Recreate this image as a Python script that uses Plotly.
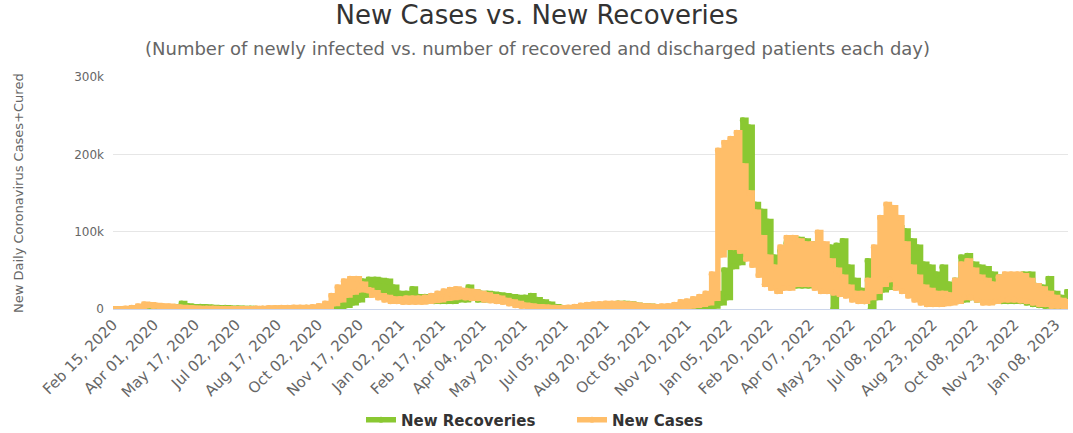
import pandas as pd
import plotly.graph_objects as go

# ---------------- data (thousands, weekly envelopes) ----------------
start_date = "2020-02-15"

cases_hi = [0, 0.1, 0.5, 1.5, 3.5, 6, 5.5, 4.5, 4, 3.5,
            2.5, 2, 1.5, 1, 0.8, 0.6, 0.5, 0.3, 0.3, 0.2,
            0.3, 0.3, 0.4, 0.5, 0.8, 1.2, 1.4, 1.6, 1.7, 1.8,
            1.9, 2.0, 2.5, 4, 7, 17, 28, 36, 39, 39,
            32, 24, 21, 17, 15, 13, 13, 14, 14, 14,
            15, 17, 20, 23, 25, 26, 24, 23, 22, 20,
            18, 16, 14, 11, 9, 7, 5, 4, 3, 2.5,
            2, 1.5, 1.5, 2, 3, 4.5, 5.5, 6, 6.5, 7,
            7, 7, 6.5, 6, 5, 4, 3.5, 3, 3.5, 4,
            5.5, 9, 10, 13, 16, 20, 45, 205, 215, 220,
            228, 185, 150, 125, 92, 67, 54, 80, 92, 92,
            88, 84, 84, 99, 84, 62, 50, 41, 28, 20,
            20, 37, 80, 118, 135, 131, 118, 84, 54, 41,
            28, 24, 20, 20, 18, 37, 58, 62, 50, 41,
            37, 32, 41, 45, 45, 45, 43, 37, 30, 26,
            20, 15, 11, 9]

cases_lo = [0, 0, 0.2, 0.8, 2.5, 4.5, 4, 3.5, 3, 2.5,
            1.8, 1.2, 0.8, 0.5, 0.4, 0.3, 0.2, 0.2, 0.1, 0.1,
            0.1, 0.1, 0.1, 0.2, 0.3, 0.5, 0.8, 1, 1.2, 1.2,
            1.3, 1.4, 1.5, 2, 3, 7, 12, 18, 22, 25,
            25, 18, 15, 12, 10, 10, 9, 9, 9, 9,
            10, 11, 12, 14, 15, 16, 15, 14, 14, 12,
            11, 10, 9, 7, 5, 4, 3, 2, 1.5, 1.2,
            1, 0.8, 0.8, 1, 1.5, 2, 2.5, 3, 3.5, 3.5,
            3.5, 3.5, 3.5, 3, 2.5, 2, 2, 1.5, 1.8, 2,
            2.5, 3.5, 4, 5, 6, 8, 14, 70, 80, 80,
            75, 65, 57, 44, 32, 27, 23, 27, 27, 32,
            32, 32, 27, 23, 23, 21, 19, 17, 12, 10,
            10, 15, 23, 32, 38, 27, 23, 17, 12, 8,
            6, 6, 6, 7, 8, 10, 15, 15, 12, 8,
            8, 10, 12, 12, 12, 11, 10, 8, 6, 6,
            4, 4, 3, 3]

recov_hi = [0, 0, 0, 0.3, 0.8, 1.5, 2, 2, 2.5, 2.5,
            3, 7, 4, 3, 3, 2.5, 2, 1.5, 1.5, 1,
            1, 0.8, 0.5, 0.4, 0.3, 0.3, 0.5, 0.5, 0.8, 1,
            1.2, 1.5, 1.5, 2, 3, 5, 8, 12, 17, 28,
            36, 38, 38, 37, 36, 28, 20, 20, 26, 16,
            16, 16, 16, 17, 18, 20, 22, 28, 22, 20,
            20, 19, 18, 17, 16, 15, 15, 17, 12, 9,
            6, 3, 1.5, 1, 1, 1.5, 2, 3, 4, 5,
            6, 7, 7, 6.5, 5, 4, 3.5, 3, 2.5, 2,
            2, 3, 4, 5, 6, 8, 11, 20, 50, 95,
            80, 244, 235, 135, 126, 113, 67, 75, 85, 88,
            90, 88, 84, 80, 70, 80, 82, 88, 54, 37,
            24, 62, 55, 65, 80, 100, 105, 101, 88, 80,
            58, 54, 45, 54, 32, 37, 67, 69, 58, 54,
            52, 45, 41, 40, 40, 42, 45, 45, 30, 28,
            39, 20, 15, 22]

recov_lo = [0, 0, 0, 0.1, 0.3, 0.8, 1, 1.2, 1.5, 1.5,
            1.5, 1.5, 2, 1.5, 1.2, 1, 0.8, 0.5, 0.5, 0.3,
            0.3, 0.2, 0.2, 0.1, 0.1, 0.1, 0.2, 0.2, 0.3, 0.4,
            0.5, 0.5, 0.5, 0.8, 1, 2, 3, 5, 8, 12,
            18, 20, 20, 18, 18, 15, 12, 12, 12, 10,
            10, 10, 10, 10, 10, 12, 12, 14, 12, 12,
            12, 11, 10, 9, 8, 7, 6, 6, 5, 3,
            2, 1, 0.5, 0.3, 0.3, 0.5, 0.8, 1, 1.5, 2,
            2.5, 3, 3, 3, 2.5, 2, 1.5, 1.5, 1, 1,
            1, 1, 1.5, 2, 2.5, 3, 4, 8, 15, 55,
            60, 120, 100, 70, 60, 50, 35, 30, 30, 30,
            30, 30, 30, 28, 25, 0, 28, 25, 20, 15,
            10, 0, 15, 25, 28, 30, 30, 25, 20, 15,
            12, 10, 10, 10, 10, 10, 12, 15, 12, 10,
            10, 10, 10, 10, 10, 10, 8, 6, 5, 4,
            3, 2, 2, 2]

tick_labels = ["Feb 15, 2020", "Apr 01, 2020", "May 17, 2020", "Jul 02, 2020",
               "Aug 17, 2020", "Oct 02, 2020", "Nov 17, 2020", "Jan 02, 2021",
               "Feb 17, 2021", "Apr 04, 2021", "May 20, 2021", "Jul 05, 2021",
               "Aug 20, 2021", "Oct 05, 2021", "Nov 20, 2021", "Jan 05, 2022",
               "Feb 20, 2022", "Apr 07, 2022", "May 23, 2022", "Jul 08, 2022",
               "Aug 23, 2022", "Oct 08, 2022", "Nov 23, 2022", "Jan 08, 2023"]

y_ticks = [0, 100000, 200000, 300000]
y_tick_text = ["0", "100k", "200k", "300k"]

GREEN = "#8AC832"
ORANGE = "#FFBE69"
FONT = "DejaVu Sans"

# ---------------- build series ----------------
weeks = pd.date_range(start_date, periods=len(cases_hi), freq="7D")


def envelope_points(hi, lo):
    xs, ys = [], []
    for d, h, l in zip(weeks, hi, lo):
        xs += [d, d + pd.Timedelta(hours=84)]
        ys += [h * 1000, l * 1000]
    return xs, ys


rx, ry = envelope_points(recov_hi, recov_lo)
cx, cy = envelope_points(cases_hi, cases_lo)
tick_vals = [pd.to_datetime(t, format="%b %d, %Y") for t in tick_labels]

fig = go.Figure()
fig.add_trace(go.Scatter(x=rx, y=ry, name="New Recoveries", mode="lines+markers",
                         line=dict(color=GREEN, width=5.5, shape="hv"),
                         marker=dict(color=GREEN, size=6), legend="legend"))
fig.add_trace(go.Scatter(x=cx, y=cy, name="New Cases", mode="lines+markers",
                         line=dict(color=ORANGE, width=5.5, shape="hv"),
                         marker=dict(color=ORANGE, size=6), legend="legend2"))

legend_font = dict(family=FONT, size=15, color="#333333", weight="bold")
legend_common = dict(orientation="h", xref="container", yref="container",
                     xanchor="left", y=13 / 433, yanchor="middle",
                     font=legend_font, itemwidth=30, bgcolor="rgba(0,0,0,0)")

fig.update_layout(
    width=1073, height=433,
    margin=dict(l=113, r=5, t=77, b=124, autoexpand=False),
    paper_bgcolor="white", plot_bgcolor="white",
    font=dict(family=FONT, color="#666666"),
    title=dict(text="New Cases vs. New Recoveries", x=537 / 1073, xanchor="center",
               xref="container", yref="container", y=1 - 15 / 433, yanchor="middle",
               font=dict(family=FONT, size=26, color="#333333")),
    showlegend=True,
    legend=dict(x=361 / 1073, **legend_common),
    legend2=dict(x=572 / 1073, **legend_common),
    xaxis=dict(type="date", range=[pd.Timestamp(start_date), pd.Timestamp("2023-01-22")],
               tickmode="array", tickvals=tick_vals, ticktext=tick_labels,
               tickangle=-45, tickfont=dict(family=FONT, size=15, color="#666666"),
               showgrid=False, showline=True, linecolor="#ccd6eb", linewidth=1,
               zeroline=False, ticks="", automargin=False),
    yaxis=dict(range=[0, 300000], tickmode="array", tickvals=y_ticks, ticktext=y_tick_text,
               tickfont=dict(family=FONT, size=12, color="#666666"),
               showgrid=True, gridcolor="#e6e6e6", gridwidth=1, zeroline=False,
               showline=False, ticks="", ticklabelstandoff=8, automargin=False),
    annotations=[
        dict(text="(Number of newly infected vs. number of recovered and discharged patients each day)",
             xref="paper", yref="paper", x=(537 - 113) / 955, y=(309 - 48) / 232,
             xanchor="center", yanchor="middle", showarrow=False,
             font=dict(family=FONT, size=18, color="#666666")),
        dict(text="New Daily Coronavirus Cases+Cured", textangle=-90,
             xref="paper", yref="paper", x=(18 - 113) / 955, y=0.5,
             xanchor="center", yanchor="middle", showarrow=False,
             font=dict(family=FONT, size=13, color="#666666")),
    ],
)

fig.write_html("out.html", config={"displayModeBar": False},
               post_script="document.body.style.margin='0';document.body.style.padding='0';")
